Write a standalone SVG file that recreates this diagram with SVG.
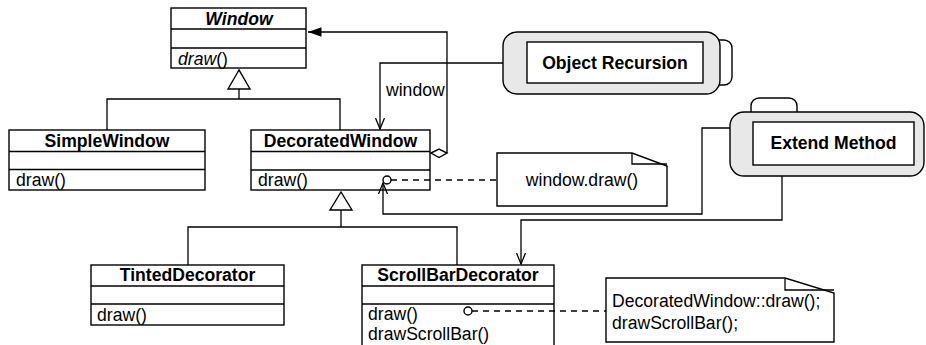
<svg xmlns="http://www.w3.org/2000/svg" width="926" height="345" viewBox="0 0 926 345">
<defs>
<style>
text{font-family:"Liberation Sans",Arial,Helvetica,sans-serif;font-size:17.6px;fill:#000}
.b{font-weight:bold}
.c{text-anchor:middle}
.box{fill:#fff;stroke:#000;stroke-width:1.4}
.ln{fill:none;stroke:#000;stroke-width:1.3}
.dash{fill:none;stroke:#000;stroke-width:1.3;stroke-dasharray:6,5}
.tool{fill:#e8e8e8;stroke:#000;stroke-width:1.4}
</style>
<marker id="open" markerUnits="userSpaceOnUse" viewBox="0 0 12 10" refX="11" refY="5" markerWidth="12" markerHeight="10" orient="auto">
<path d="M0,0.5 L11,5 L0,9.5" fill="none" stroke="#000" stroke-width="1.3"/>
</marker>
<marker id="filled" markerUnits="userSpaceOnUse" viewBox="0 0 14 10" refX="13.5" refY="5" markerWidth="14" markerHeight="10" orient="auto">
<path d="M0,0.3 L13.5,5 L0,9.7 Z" fill="#000"/>
</marker>
</defs>

<g id="Window">
<rect class="box" x="171" y="8" width="135" height="60"/>
<path class="ln" d="M171,29 H306 M171,48 H306"/>
<text class="b c" x="239" y="24.5" font-style="italic">Window</text>
<text x="178" y="64.5"><tspan font-style="italic">draw</tspan>()</text>
</g>

<g id="SimpleWindow">
<rect class="box" x="9" y="130" width="196" height="60"/>
<path class="ln" d="M9,151.5 H205 M9,169.5 H205"/>
<text class="b c" x="107" y="146.5">SimpleWindow</text>
<text x="16" y="186">draw()</text>
</g>

<g id="DecoratedWindow">
<rect class="box" x="251" y="130" width="179" height="60"/>
<path class="ln" d="M251,151.5 H430 M251,170 H430"/>
<text class="b c" x="340.5" y="146.5">DecoratedWindow</text>
<text x="258" y="186">draw()</text>
</g>

<g id="TintedDecorator">
<rect class="box" x="91" y="265" width="193" height="60"/>
<path class="ln" d="M91,286 H284 M91,304 H284"/>
<text class="b c" x="187.5" y="281">TintedDecorator</text>
<text x="97" y="320.5">draw()</text>
</g>

<g id="ScrollBarDecorator">
<rect class="box" x="362" y="265" width="192" height="100"/>
<path class="ln" d="M362,286 H554 M362,304 H554"/>
<text class="b c" x="458" y="281">ScrollBarDecorator</text>
<text x="368" y="320">draw()</text>
<text x="368" y="339.5">drawScrollBar()</text>
</g>

<g id="note1">
<path class="box" d="M497,153 H632 L667,166 V206 H497 Z"/>
<path class="ln" d="M632,153 V164 H667"/>
<text class="c" x="582" y="185.5">window.draw()</text>
</g>

<g id="note2">
<path class="box" d="M606,278 H785 L834,293 V342 H606 Z"/>
<path class="ln" d="M785,278 V290 H834"/>
<text x="612" y="306.5">DecoratedWindow::draw();</text>
<text x="612" y="328.5">drawScrollBar();</text>
</g>

<g id="ObjectRecursion">
<path class="box" d="M712,40 H724 A8,8 0 0 1 732,48 V77 A8,8 0 0 1 724,85 H712 Z"/>
<rect class="tool" x="503" y="32" width="217" height="62" rx="14"/>
<rect class="box" x="527" y="42" width="176" height="41"/>
<text class="b c" x="615" y="68.5">Object Recursion</text>
</g>

<g id="ExtendMethod">
<path class="box" d="M751,120 V106 A8,8 0 0 1 759,98 H789 A8,8 0 0 1 797,106 V120 Z"/>
<rect class="tool" x="730" y="112" width="194" height="64" rx="14"/>
<rect class="box" x="753" y="122" width="161" height="43"/>
<text class="b c" x="833.5" y="149">Extend Method</text>
</g>

<g id="connectors">
<path class="ln" d="M239,89 V99 M107,130 V99 H340 V130"/>
<polygon class="box" points="239,70 228,89 250,89"/>
<path class="ln" d="M341,210 V227 M188,265 V227 H457 V265"/>
<polygon class="box" points="341,192 330,210 352,210"/>
<path class="ln" d="M447,153 V32 H308" marker-end="url(#filled)"/>
<path class="box" d="M431,153 L439,149 L447,153 L439,157.5 Z"/>
<path class="ln" d="M503,63 H380 V129" marker-end="url(#open)"/>
<text x="386" y="96">window</text>
<path class="ln" d="M730,128 H702 V214 H383 V183" marker-end="url(#open)"/>
<path class="ln" d="M782,176 V220 H521 V264" marker-end="url(#open)"/>
<path class="dash" d="M391,180 H497"/>
<circle class="box" cx="387" cy="180" r="4"/>
<path class="dash" d="M472,311 H606"/>
<circle class="box" cx="468" cy="311" r="4"/>
</g>
</svg>
